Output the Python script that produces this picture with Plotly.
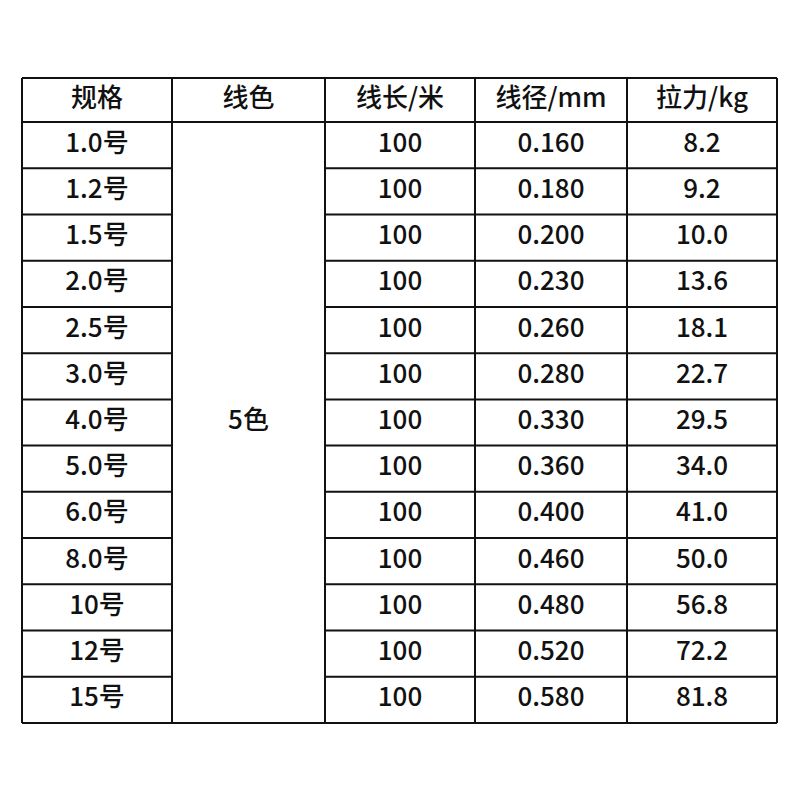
import plotly.graph_objects as go

headers = ["规格", "线色", "线长/米", "线径/mm", "拉力/kg"]
specs = ["1.0号", "1.2号", "1.5号", "2.0号", "2.5号", "3.0号", "4.0号",
         "5.0号", "6.0号", "8.0号", "10号", "12号", "15号"]
color_label = "5色"
lengths = [100] * 13
diameters = ["0.160", "0.180", "0.200", "0.230", "0.260", "0.280", "0.330",
             "0.360", "0.400", "0.460", "0.480", "0.520", "0.580"]
strengths = ["8.2", "9.2", "10.0", "13.6", "18.1", "22.7", "29.5",
             "34.0", "41.0", "50.0", "56.8", "72.2", "81.8"]

col_edges = [22, 172, 325, 475, 627, 777]
top, head_h = 78, 44
row_h = (723 - top - head_h) / len(specs)
FONT = "Noto Sans CJK SC"

centers = [(col_edges[i] + col_edges[i + 1]) / 2 for i in range(5)]
row_y = [top + head_h + row_h * (i + 0.5) for i in range(len(specs))]
bottom = top + head_h + row_h * len(specs)
txt = dict(family=FONT, size=26, color="#111", weight=500)

fig = go.Figure()
fig.add_trace(go.Scatter(
    x=centers, y=[top + head_h / 2] * 5, text=headers, mode="text",
    textfont=txt, hoverinfo="skip"))

columns = [specs, lengths, diameters, strengths]
for ci, vals in zip([0, 2, 3, 4], columns):
    fig.add_trace(go.Scatter(
        x=[centers[ci]] * len(vals), y=row_y, text=[str(v) for v in vals],
        mode="text", textfont=txt, hoverinfo="skip"))
fig.add_trace(go.Scatter(
    x=[centers[1]], y=[row_y[len(specs) // 2]], text=[color_label], mode="text",
    textfont=txt, hoverinfo="skip"))

line = dict(color="#111", width=2)
for x in col_edges:
    fig.add_shape(type="line", x0=x, x1=x, y0=top, y1=bottom, line=line)
for y in [top, top + head_h, bottom]:
    fig.add_shape(type="line", x0=col_edges[0], x1=col_edges[-1], y0=y, y1=y, line=line)
# row lines, skipping the merged colour column
for i in range(1, len(specs)):
    y = top + head_h + row_h * i
    fig.add_shape(type="line", x0=col_edges[0], x1=col_edges[1], y0=y, y1=y, line=line)
    fig.add_shape(type="line", x0=col_edges[2], x1=col_edges[-1], y0=y, y1=y, line=line)

fig.update_layout(
    width=800, height=800, margin=dict(l=0, r=0, t=0, b=0),
    plot_bgcolor="white", paper_bgcolor="white", showlegend=False,
    xaxis=dict(range=[8, 808], visible=False, fixedrange=True),
    yaxis=dict(range=[808, 8], visible=False, fixedrange=True),
)
fig.write_html("out.html")
